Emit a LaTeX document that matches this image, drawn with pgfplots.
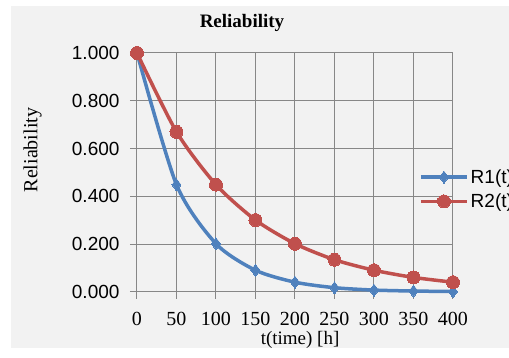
\documentclass[border=0pt]{standalone}
\usepackage{fontspec}
\setmainfont{Liberation Serif}
\newfontfamily\sansf{Liberation Sans}
\usepackage{pgfplots}
\pgfplotsset{compat=1.18}
\definecolor{bgc}{HTML}{F2F2F2}
\definecolor{gridc}{HTML}{878787}
\definecolor{blueS}{HTML}{4F81BD}
\definecolor{redS}{HTML}{C0504D}
\begin{document}
\begin{tikzpicture}[x=1pt,y=1pt]
\useasboundingbox (0,0) rectangle (509,358);
\clip (0,0) rectangle (509,358);
\fill[white] (0,0) rectangle (509,358);
\fill[bgc] (11,10) rectangle (509,352);
\node[font=\fontsize{19}{19}\selectfont\bfseries] at (242,335) {Reliability};
\begin{axis}[
  at={(137pt,66pt)}, anchor=south west,
  scale only axis, width=316pt, height=239pt,
  xmin=0, xmax=400, ymin=0, ymax=1,
  xtick={0,50,...,400}, ytick={0,0.2,...,1.0},
  grid=major,
  major grid style={gridc, line width=1pt},
  axis line style={gridc, line width=1pt},
  major tick style={gridc, line width=1pt},
  major tick length=7pt,
  tick align=outside, tick pos=left,
  xticklabel style={font=\fontsize{20}{20}\selectfont, yshift=-10pt},
  yticklabel style={font=\sansf\fontsize{19}{19}\selectfont, xshift=-7pt},
  /pgf/number format/assume math mode=true,
  yticklabel={\pgfmathprintnumber[fixed,fixed zerofill,precision=3]{\tick}},
  xticklabel={\pgfmathprintnumber[fixed]{\tick}},
  xlabel={t(time) [h]},
  xlabel style={font=\fontsize{19}{19}\selectfont, at={(axis description cs:0.516,-0.2)}, anchor=center},
  ylabel={Reliability},
  ylabel style={font=\fontsize{20}{20}\selectfont, at={(axis description cs:-0.33,0.594)}, anchor=center},
  clip=false,
  legend style={at={(rel axis cs:0.883,0.43)}, anchor=west, draw=none, fill=none,
    font=\sansf\fontsize{19}{19}\selectfont, row sep=5pt,
    /tikz/every even column/.append style={column sep=1pt}},
  legend cell align=left,
  legend image code/.code={\draw[#1, mark repeat=2, mark phase=2] plot coordinates {(0pt,0pt) (23pt,0pt) (46pt,0pt)};},
]
\addplot[blueS, line width=3.5pt, smooth, tension=0.45, mark=diamond*, mark size=6pt, mark options={line width=0pt, fill=blueS}]
coordinates {(0,1.000) (50,0.449) (100,0.202) (150,0.091) (200,0.041) (250,0.018) (300,0.008) (350,0.004) (400,0.002)};
\addlegendentry{R1(t)}
\addplot[redS, line width=3.5pt, smooth, tension=0.45, mark=*, mark size=6.5pt, mark options={line width=0pt, fill=redS}]
coordinates {(0,1.000) (50,0.670) (100,0.449) (150,0.301) (200,0.202) (250,0.135) (300,0.091) (350,0.061) (400,0.041)};
\addlegendentry{R2(t)}
\end{axis}
\end{tikzpicture}
\end{document}
